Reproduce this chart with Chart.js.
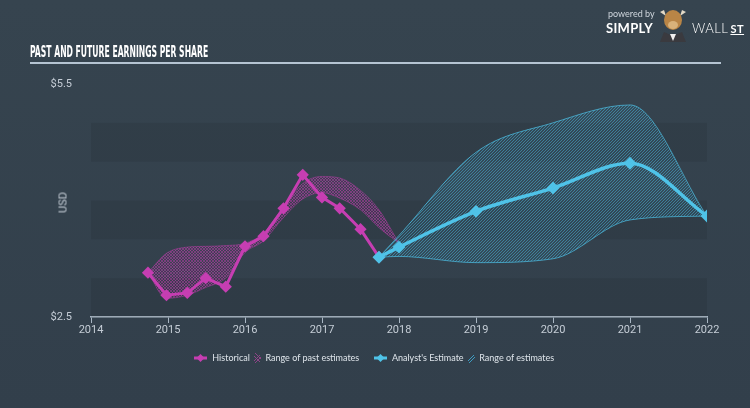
<!DOCTYPE html>
<html>
<head>
<meta charset="utf-8">
<script src="https://cdn.jsdelivr.net/npm/chart.js@4/dist/chart.umd.min.js"></script>
<style>
  body { margin: 0; width: 750px; height: 408px; overflow: hidden; background: #34424f; }
  #wrap { position: relative; width: 750px; height: 408px; background: linear-gradient(#36444f, #323f4b); font-family: Lato, "Open Sans", sans-serif; }
  #c { position: absolute; left: 0; top: 0; }
  #title { position: absolute; left: 30px; top: 43px; color: #fff; font: bold 15px "Liberation Sans Narrow", "DejaVu Sans Condensed", sans-serif; white-space: nowrap; transform-origin: 0 0; }
  #rule { position: absolute; left: 30px; top: 62px; width: 691px; height: 2px; background: #b5c4d2; }
  #usd { position: absolute; left: 50px; top: 196px; width: 26px; text-align: center; color: #c5cdd6; font: 11px Roboto, sans-serif; transform: rotate(-90deg); }
  #legend { position: absolute; left: 194px; top: 351px; color: #dfe5eb; font-size: 9px; white-space: nowrap; }
  #legend span { display: inline-block; vertical-align: middle; }
  #legend svg { vertical-align: middle; }
  #logo { position: absolute; left: 606px; top: 6px; color: #fff; }
</style>
</head>
<body>
<div id="wrap">
  <canvas id="c" width="750" height="408"></canvas>
  <div id="title">PAST AND FUTURE EARNINGS PER SHARE</div>
  <div id="rule"></div>
  <div id="usd">USD</div>
  <div id="logo">
    <div style="position:absolute;left:2px;top:2px;font:9px Lato,sans-serif;color:#cfd6dd;white-space:nowrap">powered by</div>
    <div style="position:absolute;left:0;top:14px;font:bold 13px Lato,sans-serif;letter-spacing:0.3px">SIMPLY</div>
    <svg style="position:absolute;left:48px;top:0" width="38" height="36" viewBox="0 0 38 36">
      <path d="M6 6 L12 10 L10 4 Z M32 6 L26 10 L28 4 Z" fill="#e3d9c6"/>
      <ellipse cx="19" cy="14" rx="9" ry="10" fill="#b98546"/>
      <ellipse cx="19" cy="19" rx="5" ry="4" fill="#d9b27a"/>
      <path d="M6 36 L10 26 L19 30 L28 26 L32 36 Z" fill="#3a3a3f"/>
      <path d="M16 28 L19 35 L22 28 Z" fill="#f0f0f0"/>
    </svg>
    <div style="position:absolute;left:86px;top:14px;font:13px Lato,sans-serif;font-weight:300;letter-spacing:0.5px;white-space:nowrap">WALL<b style="text-decoration:underline;font-weight:700;font-size:11px;margin-left:2px">ST</b></div>
  </div>
  <div id="legend">
    <svg width="13" height="10"><line x1="0" y1="5" x2="13" y2="5" stroke="#c63eb2" stroke-width="3"/><path d="M6.5 1 L10.5 5 L6.5 9 L2.5 5 Z" fill="#c63eb2"/></svg>
    <span style="margin:0 2px 0 3px">Historical</span>
    <svg width="7" height="10"><path d="M0 8 L6 2 M1 10 L7 4 M0 3 L6 9 M1 0 L7 6" stroke="#8f4488" stroke-width="1"/></svg>
    <span style="margin:0 12px 0 2px">Range of past estimates</span>
    <svg width="13" height="10"><line x1="0" y1="5" x2="13" y2="5" stroke="#4fc3e8" stroke-width="3"/><path d="M6.5 1 L10.5 5 L6.5 9 L2.5 5 Z" fill="#4fc3e8"/></svg>
    <span style="margin:0 2px 0 3px">Analyst's Estimate</span>
    <svg width="7" height="10"><path d="M0 8 L6 2 M1 10 L7 4" stroke="#3d9cc2" stroke-width="1"/></svg>
    <span style="margin:0 0 0 2px">Range of estimates</span>
  </div>
</div>
<script>
// EPS history (quarterly) and analyst forecasts
const histYears = [2014.74, 2014.98, 2015.25, 2015.49, 2015.75, 2016.0, 2016.24, 2016.5, 2016.75, 2017.0, 2017.23, 2017.5, 2017.74];
const histEps = [3.07, 2.78, 2.81, 3.00, 2.89, 3.41, 3.54, 3.90, 4.33, 4.04, 3.90, 3.63, 3.27];

const pastRangeYears = [2014.74, 2014.98, 2015.25, 2015.49, 2015.75, 2016.0, 2016.24, 2016.5, 2016.75, 2017.0, 2017.23, 2017.5, 2017.74, 2018.0];
const pastLow = [3.07, 2.74, 2.78, 2.88, 3.00, 3.33, 3.48, 3.78, 4.02, 4.10, 4.03, 3.88, 3.65, 3.45];
const pastHigh = [3.07, 3.32, 3.40, 3.41, 3.42, 3.45, 3.58, 3.92, 4.22, 4.31, 4.29, 4.13, 3.88, 3.45];

const estYears = [2017.74, 2018.0, 2019.0, 2020.0, 2021.0, 2022.0];
const estEps = [3.27, 3.40, 3.86, 4.16, 4.48, 3.80];
const estLow = [3.27, 3.28, 3.20, 3.25, 3.75, 3.80];
const estHigh = [3.27, 3.55, 4.62, 5.00, 5.23, 3.80];

const xTicks = [2014, 2015, 2016, 2017, 2018, 2019, 2020, 2021, 2022];
const yTicks = [2.5, 5.5];
const bands = [[4.5, 5.0], [3.5, 4.0], [2.5, 3.0]];

const MAGENTA = '#c63eb2';
const CYAN = '#4fc3e8';

const pts = (xs, ys) => xs.map((x, i) => ({ x: x, y: ys[i] }));

const hatch = (color, tint, cross) => {
    const c = document.createElement('canvas');
    c.width = 3; c.height = 3;
    const g = c.getContext('2d');
    g.fillStyle = tint;
    g.fillRect(0, 0, 3, 3);
    g.strokeStyle = color;
    g.lineWidth = 1;
    g.beginPath();
    g.moveTo(-1, 4); g.lineTo(4, -1);
    g.moveTo(-1, 1); g.lineTo(1, -1);
    g.moveTo(2, 4); g.lineTo(4, 2);
    if (cross) {
        g.moveTo(-1, -1); g.lineTo(4, 4);
    }
    g.stroke();
    return g.createPattern(c, 'repeat');
};

// darker horizontal bands behind the data
const bandPlugin = {
    id: 'bands',
    beforeDatasetsDraw(chart) {
        const { ctx, chartArea, scales } = chart;
        ctx.save();
        ctx.fillStyle = 'rgba(0,0,0,0.07)';
        bands.forEach(([lo, hi]) => {
            const top = scales.y.getPixelForValue(hi);
            const bottom = scales.y.getPixelForValue(lo);
            ctx.fillRect(chartArea.left, top, chartArea.right - chartArea.left, bottom - top);
        });
        ctx.restore();
    }
};

// squeeze the title to the condensed width of the original
const title = document.getElementById('title');
title.style.transform = 'scaleX(' + (178 / title.offsetWidth) + ')';

new Chart(document.getElementById('c'), {
    type: 'line',
    data: {
        datasets: [
            {
                label: 'Historical',
                data: pts(histYears, histEps),
                borderColor: MAGENTA,
                backgroundColor: MAGENTA,
                borderWidth: 3,
                pointStyle: 'rectRot',
                pointRadius: 4,
                tension: 0,
                fill: false,
                order: 1
            },
            {
                label: 'Analyst\'s Estimate',
                data: pts(estYears, estEps),
                borderColor: CYAN,
                backgroundColor: CYAN,
                borderWidth: 3.5,
                pointStyle: 'rectRot',
                pointRadius: 4,
                cubicInterpolationMode: 'monotone',
                fill: false,
                order: 0
            },
            {
                label: 'pastHigh',
                data: pts(pastRangeYears, pastHigh),
                borderColor: 'rgba(198,62,178,0.4)',
                borderWidth: 1,
                pointRadius: 0,
                cubicInterpolationMode: 'monotone',
                backgroundColor: hatch('rgba(198,62,178,0.45)', 'rgba(198,62,178,0.08)', true),
                fill: '+1',
                order: 3
            },
            {
                label: 'pastLow',
                data: pts(pastRangeYears, pastLow),
                borderColor: 'rgba(198,62,178,0.4)',
                borderWidth: 1,
                pointRadius: 0,
                cubicInterpolationMode: 'monotone',
                fill: false,
                order: 3
            },
            {
                label: 'estHigh',
                data: pts(estYears, estHigh),
                borderColor: 'rgba(79,195,232,0.7)',
                borderWidth: 1,
                pointRadius: 0,
                cubicInterpolationMode: 'monotone',
                backgroundColor: hatch('rgba(79,195,232,0.45)', 'rgba(60,150,190,0.12)', false),
                fill: '+1',
                order: 2
            },
            {
                label: 'estLow',
                data: pts(estYears, estLow),
                borderColor: 'rgba(79,195,232,0.7)',
                borderWidth: 1,
                pointRadius: 0,
                cubicInterpolationMode: 'monotone',
                fill: false,
                order: 2
            }
        ]
    },
    options: {
        responsive: false,
        animation: false,
        events: [],
        layout: { padding: { left: 0, right: 43, top: 84, bottom: 69 } },
        plugins: {
            legend: { display: false },
            tooltip: { enabled: false }
        },
        scales: {
            x: {
                type: 'linear',
                min: 2014,
                max: 2022,
                afterBuildTicks: (s) => { s.ticks = xTicks.map((v) => ({ value: v })); },
                afterFit: (s) => { s.height = 22; },
                ticks: {
                    color: '#c5cdd6',
                    font: { family: 'Roboto', size: 11 },
                    padding: 1,
                    maxRotation: 0,
                    autoSkip: false,
                    callback: (v) => String(v)
                },
                grid: { drawOnChartArea: false, drawTicks: true, tickLength: 6, color: '#a9b7c4' },
                border: { display: true, color: '#a9b7c4', width: 1.5 }
            },
            y: {
                min: 2.5,
                max: 5.5,
                afterBuildTicks: (s) => { s.ticks = yTicks.map((v) => ({ value: v })); },
                afterFit: (s) => { s.width = 91; },
                ticks: {
                    color: '#c5cdd6',
                    font: { family: 'Roboto', size: 11 },
                    padding: 11,
                    callback: (v) => '$' + v.toFixed(1)
                },
                grid: { display: false },
                border: { display: false }
            }
        }
    },
    plugins: [bandPlugin]
});
</script>
</body>
</html>
